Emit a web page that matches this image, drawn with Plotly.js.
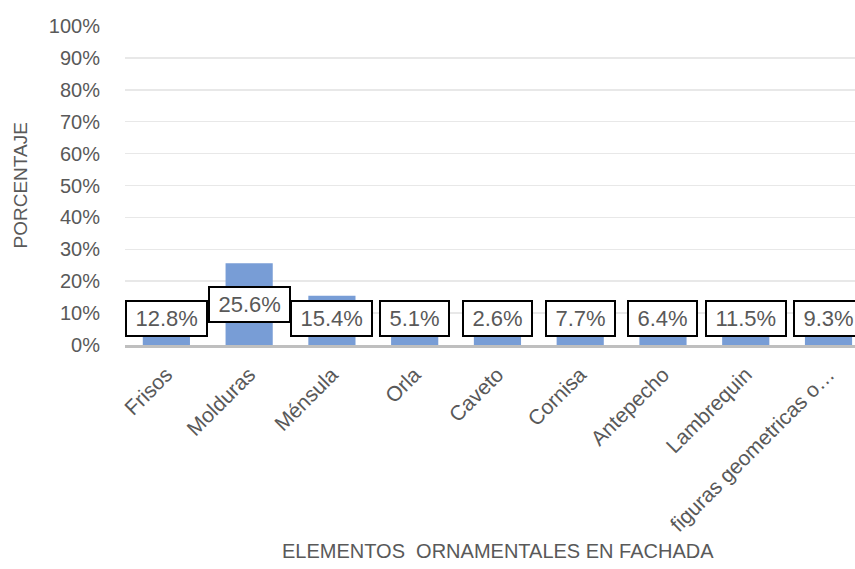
<!DOCTYPE html>
<html>
<head>
<meta charset="utf-8">
<script src="https://cdn.plot.ly/plotly-3.0.1.min.js"></script>
<style>html,body{margin:0;padding:0;background:#fff;}#chart{width:855px;height:569px;}</style>
</head>
<body>
<div id="chart"></div>
<script>
var categories = ["Frisos", "Molduras", "Ménsula", "Orla", "Caveto", "Cornisa", "Antepecho", "Lambrequin", "figuras geometricas o…"];
var values = [0.128, 0.256, 0.154, 0.051, 0.026, 0.077, 0.064, 0.115, 0.093];
var yTickVals = [0, 0.1, 0.2, 0.3, 0.4, 0.5, 0.6, 0.7, 0.8, 0.9, 1.0];
var yTickText = ["0%", "10%", "20%", "30%", "40%", "50%", "60%", "70%", "80%", "90%", "100%"];
var xTitle = "ELEMENTOS\u00a0 ORNAMENTALES EN FACHADA";
var yTitle = "PORCENTAJE";

var gray = "#595959";
var fontFam = "Liberation Sans, Arial, sans-serif";
var narrowFam = "Liberation Sans Narrow, Arial Narrow, sans-serif";

var annotations = categories.map(function (c, i) {
  return {
    x: c, y: Math.max(values[i] / 2, 0.083), xref: "x", yref: "y",
    text: "\u2009" + (values[i] * 100).toFixed(1) + "%\u2009",
    showarrow: false, xanchor: "center", yanchor: "middle",
    bgcolor: "#ffffff", bordercolor: "#000000", borderwidth: 2, borderpad: 4,
    font: {family: narrowFam, size: 22, color: gray}
  };
});
annotations.push({
  xref: "paper", yref: "paper", x: 0.511, y: -0.646, xanchor: "center", yanchor: "middle",
  text: xTitle, showarrow: false, font: {family: fontFam, size: 20, color: gray}
});
annotations.push({
  xref: "paper", yref: "paper", x: -0.1425, y: 0.5, xanchor: "center", yanchor: "middle",
  textangle: -90, text: yTitle, showarrow: false, font: {family: fontFam, size: 19, color: gray}
});

var trace = {
  type: "bar", x: categories, y: values,
  marker: {color: "#789dd6"}, hoverinfo: "none"
};

var layout = {
  width: 855, height: 569,
  margin: {l: 125, r: 0, t: 26, b: 224},
  paper_bgcolor: "#ffffff", plot_bgcolor: "#ffffff",
  bargap: 0.43,
  showlegend: false,
  font: {family: fontFam, color: gray},
  xaxis: {
    type: "category",
    range: [-0.5, 8.32],
    tickangle: -45,
    tickfont: {family: fontFam, size: 21, color: gray},
    ticklabelstandoff: 6,
    showline: true, linecolor: "#bfbfbf", linewidth: 3,
    showgrid: false, ticks: "", zeroline: false,
    automargin: false
  },
  yaxis: {
    range: [0, 1],
    tickvals: yTickVals, ticktext: yTickText,
    tickfont: {family: fontFam, size: 20, color: gray},
    ticklabelstandoff: 24,
    showgrid: true, gridcolor: "#e8e8e8", gridwidth: 1.5,
    zeroline: false, showline: false, ticks: "",
    automargin: false
  },
  annotations: annotations
};

Plotly.newPlot("chart", [trace], layout, {displayModeBar: false, staticPlot: true});
</script>
</body>
</html>
